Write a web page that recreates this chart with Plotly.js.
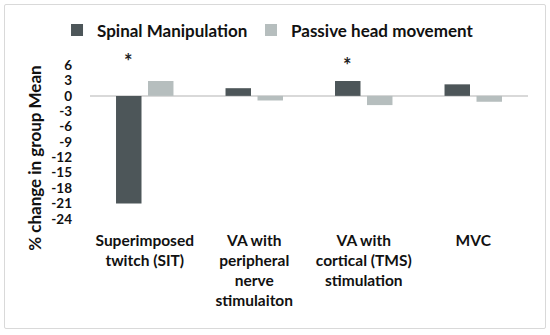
<!DOCTYPE html>
<html>
<head>
<meta charset="utf-8">
<script src="https://cdn.plot.ly/plotly-3.0.1.min.js"></script>
<style>
  html, body { margin: 0; padding: 0; background: #fff; }
  #wrap { position: relative; width: 550px; height: 335px; }
  #chart { position: absolute; left: 0; top: 0; width: 550px; height: 335px; }
  #frame { position: absolute; left: 4px; top: 4px; width: 540px; height: 323px; border: 1px solid #d9d9d9; border-radius: 2px; pointer-events: none; }
</style>
</head>
<body>
<div id="wrap">
  <div id="chart"></div>
  <div id="frame"></div>
</div>
<script>
const categories = [
  "Superimposed<br>twitch (SIT)",
  "VA with<br>peripheral<br>nerve<br>stimulaiton",
  "VA with<br>cortical (TMS)<br>stimulation",
  "MVC"
];
const spinalManipulation = [-21.0, 1.5, 2.9, 2.25];
const passiveHeadMovement = [2.9, -0.9, -1.8, -1.15];
const significant = [true, false, true, false];
const starLevels = [6.9, 6.0, 6.0, 6.0];
const yTicks = [6, 3, 0, -3, -6, -9, -12, -15, -18, -21, -24];
const yTitle = "% change in group Mean";

const FONT = "Lato, Calibri, Carlito, sans-serif";
const DARK = "#4d5659";
const LIGHT = "#b6bebe";

const traces = [
  {
    type: "bar", name: "Spinal Manipulation", x: categories, y: spinalManipulation,
    marker: { color: DARK }, hoverinfo: "none", legend: "legend"
  },
  {
    type: "bar", name: "Passive head movement", x: categories, y: passiveHeadMovement,
    marker: { color: LIGHT }, hoverinfo: "none", legend: "legend2"
  }
];

const annotations = [];
categories.forEach((c, i) => {
  if (significant[i]) {
    annotations.push({
      x: i, y: starLevels[i], xref: "x", yref: "y", text: "*", showarrow: false,
      xshift: -16, font: { family: FONT, size: 20, color: "#222" }
    });
  }
});
annotations.push({
  x: -0.1256, y: 0.4036, xref: "paper", yref: "paper", text: yTitle, showarrow: false,
  textangle: -90, xanchor: "center", yanchor: "middle",
  font: { family: FONT, size: 17, color: "#111", weight: "bold" }
});

const legendFont = { family: FONT, size: 17, color: "#111", weight: "bold" };

const layout = {
  width: 550, height: 335,
  margin: { l: 90, r: 22, t: 58, b: 111 },
  paper_bgcolor: "rgba(0,0,0,0)",
  plot_bgcolor: "rgba(0,0,0,0)",
  font: { family: FONT, color: "#111", size: 16, weight: "bold" },
  barmode: "group",
  bargap: 0.416,
  bargroupgap: 0.203,
  showlegend: true,
  legend: {
    orientation: "h", x: -0.0753, xanchor: "left", y: 1.18, yanchor: "middle",
    font: legendFont
  },
  legend2: {
    orientation: "h", x: 0.3676, xanchor: "left", y: 1.18, yanchor: "middle",
    font: legendFont
  },
  xaxis: {
    type: "category", showgrid: false, zeroline: false, showline: false, ticks: "",
    tickfont: { family: FONT, size: 15.5, color: "#111", weight: "bold" },
    ticklabelstandoff: 5
  },
  yaxis: {
    range: [-25, 7], tickvals: yTicks, ticktext: yTicks.map(String),
    showgrid: false, zeroline: true, zerolinecolor: "#d9d9d9", zerolinewidth: 1.5,
    showline: false, ticks: "",
    tickfont: { family: FONT, size: 13.5, color: "#111", weight: "bold" },
    ticklabelstandoff: 17
  },
  annotations: annotations
};

Plotly.newPlot("chart", traces, layout, { staticPlot: true, displayModeBar: false });
</script>
</body>
</html>
